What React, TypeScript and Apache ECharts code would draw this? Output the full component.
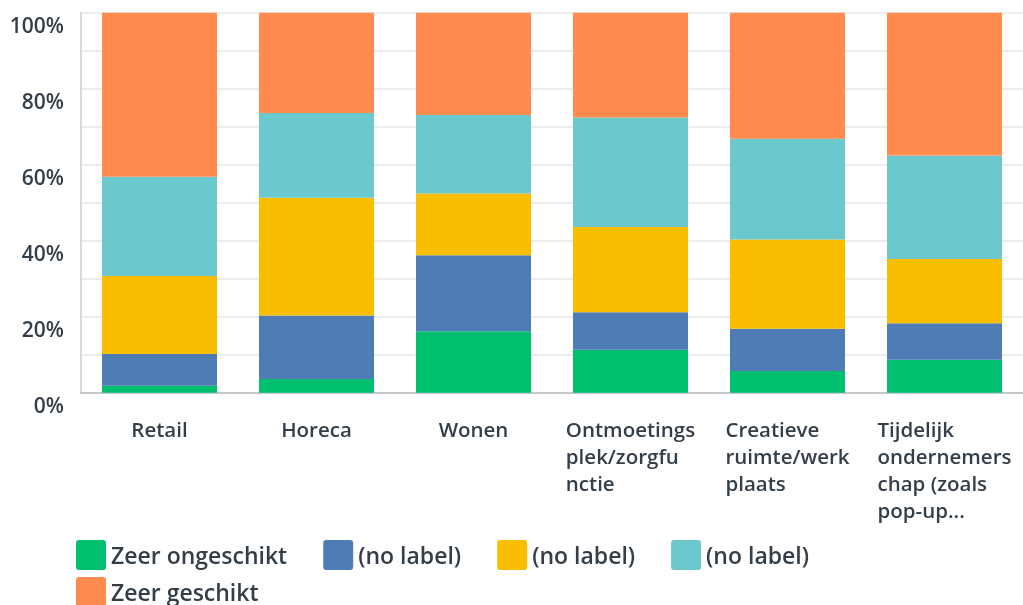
import React, { useEffect, useRef } from "react";
import * as echarts from "echarts";

const categories = [
  "Retail",
  "Horeca",
  "Wonen",
  "Ontmoetings\nplek/zorgfu\nnctie",
  "Creatieve\nruimte/werk\nplaats",
  "Tijdelijk\nondernemers\nchap (zoals\npop-up...",
];

const seriesNames = ["Zeer ongeschikt", "(no label) ", "(no label)  ", "(no label)   ", "Zeer geschikt"];

const zeerOngeschikt = [1.8, 3.6, 16.2, 11.3, 5.7, 8.7];
const noLabel2 = [8.4, 16.7, 20.0, 9.9, 11.1, 9.6];
const noLabel3 = [20.5, 31.0, 16.2, 22.4, 23.5, 16.9];
const noLabel4 = [26.1, 22.3, 20.7, 28.8, 26.5, 27.2];
const zeerGeschikt = [43.2, 26.4, 26.9, 27.6, 33.2, 37.6];

const yTicks = [0, 20, 40, 60, 80, 100];

const colors = ["#00BF6F", "#507CB6", "#F9BE00", "#6BC8CD", "#FF8B4F"];
const TEXT = "#333e48";
const FONT = "'Open Sans', sans-serif";
const ICON =
  "path://M3,0 H27 A3,3 0 0 1 30,3 V27 A3,3 0 0 1 27,30 H3 A3,3 0 0 1 0,27 V3 A3,3 0 0 1 3,0 Z";

export default function App() {
  const ref = useRef<HTMLDivElement>(null);
  useEffect(() => {
    if (!ref.current) return;
    const chart = echarts.init(ref.current, undefined, { renderer: "svg" });
    const values = [zeerOngeschikt, noLabel2, noLabel3, noLabel4, zeerGeschikt];
    const legendText = {
      color: TEXT,
      fontSize: 23,
      fontWeight: 600,
      fontFamily: FONT,
    };
    chart.setOption({
      animation: false,
      grid: { left: 81, top: 12.7, width: 947, bottom: 212.3 },
      legend: [
        {
          left: 76,
          top: 540,
          padding: 0,
          orient: "horizontal",
          itemWidth: 30,
          itemHeight: 30,
          itemGap: 36,
          icon: ICON,
          data: seriesNames.slice(0, 4),
          formatter: (n: string) => n.trim(),
          textStyle: legendText,
          selectedMode: false,
        },
        {
          left: 76,
          top: 577,
          padding: 0,
          itemWidth: 30,
          itemHeight: 30,
          icon: ICON,
          data: seriesNames.slice(4),
          textStyle: legendText,
          selectedMode: false,
        },
      ],
      xAxis: {
        type: "category",
        data: categories,
        axisTick: { show: false },
        axisLine: { lineStyle: { color: "#c8c8c8", width: 2 } },
        axisLabel: {
          margin: 23,
          interval: 0,
          formatter: (v: string) =>
            v
              .split("\n")
              .map((l) => `{l|${l}}`)
              .join("\n"),
          rich: {
            l: {
              align: "left",
              color: TEXT,
              fontSize: 20.5,
              fontWeight: 600,
              fontFamily: FONT,
              lineHeight: 27,
            },
          },
        },
      },
      yAxis: {
        type: "value",
        min: 0,
        max: 100,
        interval: 10,
        axisLine: { show: true, lineStyle: { color: "#d8d8d8", width: 2 } },
        axisTick: { show: false },
        splitLine: { lineStyle: { color: "#ececec", width: 2 } },
        axisLabel: {
          margin: 17,
          color: TEXT,
          fontSize: 21,
          fontWeight: 600,
          fontFamily: FONT,
          verticalAlign: "top",
          padding: [2, 0, 0, 0],
          formatter: (v: number) => (yTicks.includes(v) ? `${v}%` : ""),
        },
      },
      series: seriesNames.map((name, i) => ({
        name,
        type: "bar",
        stack: "total",
        barWidth: 115,
        data: values[i],
        itemStyle: { color: colors[i] },
      })),
    });
    return () => chart.dispose();
  }, []);
  return (
    <div
      ref={ref}
      style={{ position: "fixed", left: 0, top: 0, width: 1023, height: 605 }}
    />
  );
}
